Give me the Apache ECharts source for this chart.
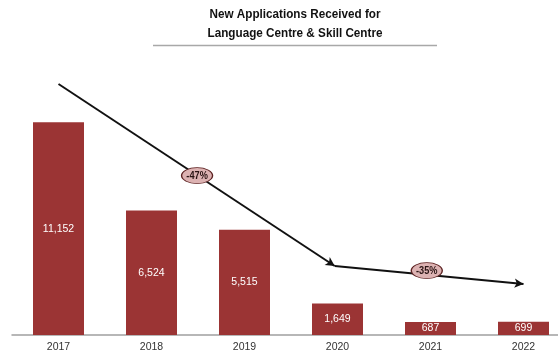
<!DOCTYPE html>
<html>
<head>
<meta charset="utf-8">
<script src="https://cdn.jsdelivr.net/npm/echarts@6/dist/echarts.min.js"></script>
<style>
  html, body { margin: 0; padding: 0; background: #fff; overflow: hidden; }
  /* the category band runs a little past the right edge of the view */
  #chart { width: 570px; height: 358px; }
</style>
</head>
<body>
<div id="chart"></div>
<script>
// Yearly new applications
const years = ['2017', '2018', '2019', '2020', '2021', '2022'];
const applications = [11152, 6524, 5515, 1649, 687, 699];

// Trend arrow path (x in category-centre units, y in applications)
const trendX = [0.5, 3.47, 5.5];
const trendY = [13160, 3620, 2675];

// Percentage-change callouts
const changeLabels = ['-47%', '-35%'];
const changeX = [1.99, 4.46];
const changeY = [8360, 3380];

const BAR = '#9b3434';
const SANS = "'Liberation Sans', Arial, sans-serif";

const trendPoints = trendX.map((x, i) => [x, trendY[i]]);
const arrowSegments = [];
for (let i = 0; i < trendPoints.length - 1; i++) {
  arrowSegments.push([{ coord: trendPoints[i] }, { coord: trendPoints[i + 1] }]);
}
const callouts = changeLabels.map((t, i) => ({ name: t, coord: [changeX[i], changeY[i]] }));

// Condensed bold heading drawn as two centred lines
function headingLine(text, y) {
  return {
    type: 'text',
    x: 295,
    y: y,
    scaleX: 0.9,
    silent: true,
    style: {
      text: text,
      textAlign: 'center',
      textVerticalAlign: 'middle',
      font: 'bold 13px ' + SANS,
      fill: '#111'
    }
  };
}
const headingGraphics = [
  headingLine('New Applications Received for', 14),
  headingLine('Language Centre & Skill Centre', 33),
  {
    type: 'line',
    shape: { x1: 153, y1: 45.5, x2: 437, y2: 45.5 },
    style: { stroke: '#a8a8a8', lineWidth: 1.5 },
    silent: true
  }
];

const chart = echarts.init(document.getElementById('chart'), null, { renderer: 'canvas' });
chart.setOption({
  animation: false,
  graphic: headingGraphics,
  grid: { left: 12, top: 68, right: 0, bottom: 23 },
  xAxis: [{
    type: 'category',
    data: years,
    axisLine: { lineStyle: { color: '#a0a0a0', width: 1.5 } },
    axisTick: { show: false },
    axisLabel: { color: '#333', fontSize: 10.5, fontFamily: SANS, margin: 7 }
  }, {
    type: 'value',
    min: 0,
    max: 6,
    show: false
  }],
  yAxis: {
    type: 'value',
    min: 0,
    max: 14000,
    show: false
  },
  series: [{
    type: 'bar',
    data: applications,
    barWidth: 51,
    itemStyle: { color: BAR },
    label: {
      show: true,
      position: 'inside',
      color: '#fff',
      fontSize: 10.5,
      fontFamily: SANS,
      formatter: p => p.value.toLocaleString('en-US')
    }
  }, {
    type: 'line',
    xAxisIndex: 1,
    data: trendPoints,
    showSymbol: false,
    lineStyle: { opacity: 0 },
    silent: true,
    markLine: {
      silent: true,
      symbol: ['none', 'arrow'],
      symbolSize: [7, 9],
      label: { show: false },
      lineStyle: { color: '#111', width: 2, type: 'solid' },
      data: arrowSegments
    },
    markPoint: {
      silent: true,
      symbol: 'path://M0,50 A50,50 0 1,0 100,50 A50,50 0 1,0 0,50 Z',
      symbolSize: [31, 16],
      symbolKeepAspect: false,
      itemStyle: { color: '#dcb2b2', borderColor: '#5e2424', borderWidth: 1 },
      label: { show: false },
      data: callouts
    }
  }]
});

// Callout text, placed at the converted data positions and condensed
const calloutText = callouts.map(c => {
  const p = chart.convertToPixel({ xAxisIndex: 1, yAxisIndex: 0 }, c.coord);
  return {
    type: 'text',
    x: p[0],
    y: p[1],
    scaleX: 0.8,
    silent: true,
    z: 10,
    style: {
      text: c.name,
      textAlign: 'center',
      textVerticalAlign: 'middle',
      font: 'bold 11.5px ' + SANS,
      fill: '#2a1414'
    }
  };
});
chart.setOption({ graphic: headingGraphics.concat(calloutText) });
</script>
</body>
</html>
